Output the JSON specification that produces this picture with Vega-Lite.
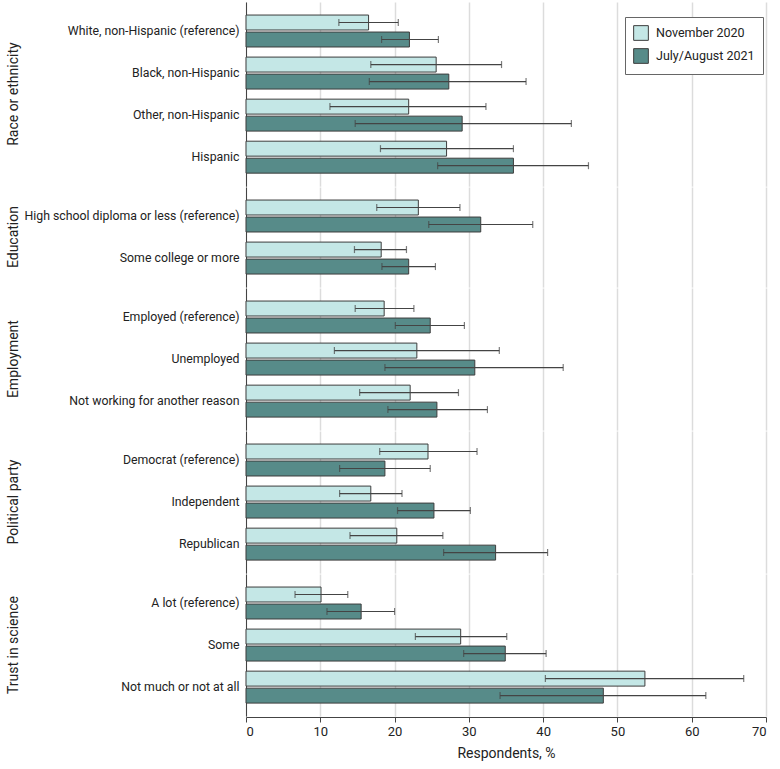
{
  "$schema": "https://vega.github.io/schema/vega-lite/v6.json",
  "padding": {"top": 2, "left": 7, "right": 5, "bottom": 5},
  "config": {
    "font": "Roboto",
    "view": {"stroke": null},
    "axis": {"labelColor": "#222", "titleColor": "#222", "domainColor": "#444", "tickColor": "#444"}
  },
  "data": {
    "values": [
      {"group": "Race or ethnicity", "sub": "White, non-Hispanic (reference)", "period": "November 2020", "value": 16.5, "lo": 12.5, "hi": 20.5},
      {"group": "Race or ethnicity", "sub": "White, non-Hispanic (reference)", "period": "July/August 2021", "value": 22.0, "lo": 18.25, "hi": 25.9},
      {"group": "Race or ethnicity", "sub": "Black, non-Hispanic", "period": "November 2020", "value": 25.6, "lo": 16.8, "hi": 34.4},
      {"group": "Race or ethnicity", "sub": "Black, non-Hispanic", "period": "July/August 2021", "value": 27.3, "lo": 16.6, "hi": 37.7},
      {"group": "Race or ethnicity", "sub": "Other, non-Hispanic", "period": "November 2020", "value": 21.9, "lo": 11.3, "hi": 32.3},
      {"group": "Race or ethnicity", "sub": "Other, non-Hispanic", "period": "July/August 2021", "value": 29.1, "lo": 14.7, "hi": 43.8},
      {"group": "Race or ethnicity", "sub": "Hispanic", "period": "November 2020", "value": 27.0, "lo": 18.1, "hi": 36.0},
      {"group": "Race or ethnicity", "sub": "Hispanic", "period": "July/August 2021", "value": 36.0, "lo": 25.8, "hi": 46.1},
      {"group": "Education", "sub": "High school diploma or less (reference)", "period": "November 2020", "value": 23.2, "lo": 17.6, "hi": 28.8},
      {"group": "Education", "sub": "High school diploma or less (reference)", "period": "July/August 2021", "value": 31.6, "lo": 24.6, "hi": 38.6},
      {"group": "Education", "sub": "Some college or more", "period": "November 2020", "value": 18.2, "lo": 14.6, "hi": 21.6},
      {"group": "Education", "sub": "Some college or more", "period": "July/August 2021", "value": 21.9, "lo": 18.3, "hi": 25.5},
      {"group": "Employment", "sub": "Employed (reference)", "period": "November 2020", "value": 18.6, "lo": 14.7, "hi": 22.6},
      {"group": "Employment", "sub": "Employed (reference)", "period": "July/August 2021", "value": 24.8, "lo": 20.1, "hi": 29.4},
      {"group": "Employment", "sub": "Unemployed", "period": "November 2020", "value": 23.0, "lo": 11.9, "hi": 34.1},
      {"group": "Employment", "sub": "Unemployed", "period": "July/August 2021", "value": 30.8, "lo": 18.7, "hi": 42.7},
      {"group": "Employment", "sub": "Not working for another reason", "period": "November 2020", "value": 22.1, "lo": 15.3, "hi": 28.6},
      {"group": "Employment", "sub": "Not working for another reason", "period": "July/August 2021", "value": 25.7, "lo": 19.1, "hi": 32.5},
      {"group": "Political party", "sub": "Democrat (reference)", "period": "November 2020", "value": 24.5, "lo": 18.0, "hi": 31.1},
      {"group": "Political party", "sub": "Democrat (reference)", "period": "July/August 2021", "value": 18.7, "lo": 12.6, "hi": 24.8},
      {"group": "Political party", "sub": "Independent", "period": "November 2020", "value": 16.8, "lo": 12.6, "hi": 21.0},
      {"group": "Political party", "sub": "Independent", "period": "July/August 2021", "value": 25.3, "lo": 20.4, "hi": 30.2},
      {"group": "Political party", "sub": "Republican", "period": "November 2020", "value": 20.3, "lo": 14.0, "hi": 26.5},
      {"group": "Political party", "sub": "Republican", "period": "July/August 2021", "value": 33.6, "lo": 26.6, "hi": 40.6},
      {"group": "Trust in science", "sub": "A lot (reference)", "period": "November 2020", "value": 10.1, "lo": 6.6, "hi": 13.7},
      {"group": "Trust in science", "sub": "A lot (reference)", "period": "July/August 2021", "value": 15.5, "lo": 10.9, "hi": 20.0},
      {"group": "Trust in science", "sub": "Some", "period": "November 2020", "value": 28.9, "lo": 22.8, "hi": 35.1},
      {"group": "Trust in science", "sub": "Some", "period": "July/August 2021", "value": 34.9, "lo": 29.3, "hi": 40.4},
      {"group": "Trust in science", "sub": "Not much or not at all", "period": "November 2020", "value": 53.7, "lo": 40.3, "hi": 67.0},
      {"group": "Trust in science", "sub": "Not much or not at all", "period": "July/August 2021", "value": 48.1, "lo": 34.2, "hi": 61.9}
    ]
  },
  "facet": {
    "row": {
      "field": "group",
      "type": "nominal",
      "sort": ["Race or ethnicity", "Education", "Employment", "Political party", "Trust in science"],
      "header": {"title": null, "labelAngle": -90, "labelOrient": "left", "labelFontSize": 14, "labelColor": "#222", "labelPadding": -4, "labelFont": "Roboto"}
    }
  },
  "spacing": {"row": 0},
  "resolve": {"scale": {"y": "independent"}},
  "spec": {
    "width": 520,
    "height": {"step": 17},
    "encoding": {
      "y": {
        "field": "sub",
        "type": "nominal",
        "sort": ["White, non-Hispanic (reference)", "Black, non-Hispanic", "Other, non-Hispanic", "Hispanic", "High school diploma or less (reference)", "Some college or more", "Employed (reference)", "Unemployed", "Not working for another reason", "Democrat (reference)", "Independent", "Republican", "A lot (reference)", "Some", "Not much or not at all"],
        "scale": {"paddingInner": 0.24, "paddingOuter": 0.31},
        "axis": {"title": null, "ticks": false, "labelPadding": 7, "labelFontSize": 12.3, "labelLimit": 300, "domainColor": "#444"}
      },
      "yOffset": {
        "field": "period",
        "type": "nominal",
        "sort": ["November 2020", "July/August 2021"],
        "scale": {"paddingInner": 0.12}
      }
    },
    "layer": [
      {
        "mark": {"type": "bar", "stroke": "#3d3d3d", "strokeWidth": 1},
        "encoding": {
          "x": {
            "field": "value",
            "type": "quantitative",
            "scale": {"domain": [0, 70], "nice": false},
            "axis": {"title": "Respondents, %", "values": [0, 10, 20, 30, 40, 50, 60, 70], "labelFontSize": 13, "titleFontSize": 14, "titleFontWeight": "normal", "titlePadding": 8, "tickSize": 5, "gridColor": "#dcdcdc", "gridWidth": 1.5, "labelPadding": 3}
          },
          "color": {
            "field": "period",
            "type": "nominal",
            "sort": ["November 2020", "July/August 2021"],
            "scale": {"domain": ["November 2020", "July/August 2021"], "range": ["#C4E7E6", "#578B89"]},
            "legend": {
              "title": null,
              "orient": "none",
              "legendX": 379,
              "legendY": 15,
              "symbolType": "square",
              "symbolSize": 216,
              "symbolStrokeColor": "#3d3d3d",
              "symbolStrokeWidth": 1,
              "symbolOpacity": 1,
              "labelFontSize": 12.5,
              "labelColor": "#222",
              "labelOffset": 7,
              "rowPadding": 3,
              "padding": 8,
              "strokeColor": "#666",
              "fillColor": "white"
            }
          }
        }
      },
      {
        "mark": {"type": "rule", "color": "#444", "strokeWidth": 1.2},
        "encoding": {
          "x": {"field": "lo", "type": "quantitative"},
          "x2": {"field": "hi"}
        }
      },
      {
        "mark": {"type": "tick", "color": "#444", "size": 7, "thickness": 1.2},
        "encoding": {"x": {"field": "lo", "type": "quantitative"}}
      },
      {
        "mark": {"type": "tick", "color": "#444", "size": 7, "thickness": 1.2},
        "encoding": {"x": {"field": "hi", "type": "quantitative"}}
      }
    ]
  }
}
